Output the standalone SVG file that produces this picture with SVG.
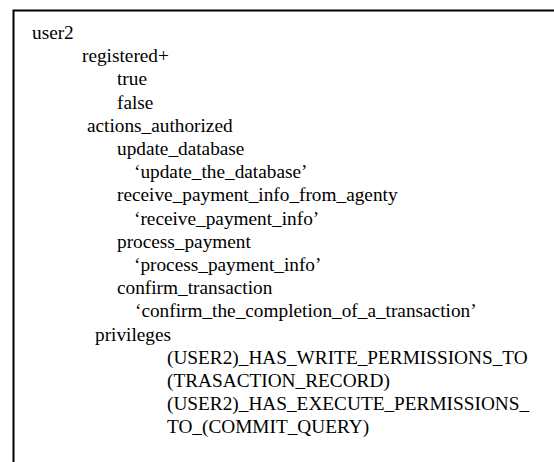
<svg xmlns="http://www.w3.org/2000/svg" width="554" height="462" viewBox="0 0 554 462">
<style>
text{font-family:"Liberation Serif","Times New Roman",serif;font-size:19.3px;fill:#000}
.frame{fill:#fff;stroke:#000;stroke-width:2}
</style>
<rect x="0" y="0" width="554" height="462" fill="#fff"/>
<g id="frame"><rect class="frame" x="13.5" y="10.5" width="600" height="500"/></g>
<g id="user2"><text x="32" y="39">user2</text></g>
<g id="registered"><text x="82" y="62.2">registered+</text>
<text x="117" y="85.4">true</text>
<text x="117" y="108.6">false</text></g>
<g id="actions_authorized"><text x="87" y="131.8">actions_authorized</text>
<text x="117" y="155">update_database</text>
<text x="134" y="178.2">‘update_the_database’</text>
<text x="117" y="201.4">receive_payment_info_from_agenty</text>
<text x="134" y="224.6">‘receive_payment_info’</text>
<text x="117" y="247.8">process_payment</text>
<text x="134" y="271">‘process_payment_info’</text>
<text x="117" y="294.2">confirm_transaction</text>
<text x="135" y="317.4">‘confirm_the_completion_of_a_transaction’</text></g>
<g id="privileges"><text x="95" y="340.6">privileges</text>
<text x="167" y="363.8">(USER2)_HAS_WRITE_PERMISSIONS_TO</text>
<text x="167" y="387">(TRASACTION_RECORD)</text>
<text x="167" y="410.2">(USER2)_HAS_EXECUTE_PERMISSIONS_</text>
<text x="167" y="433.4">TO_(COMMIT_QUERY)</text></g>
<g id="connectors"/>
</svg>
